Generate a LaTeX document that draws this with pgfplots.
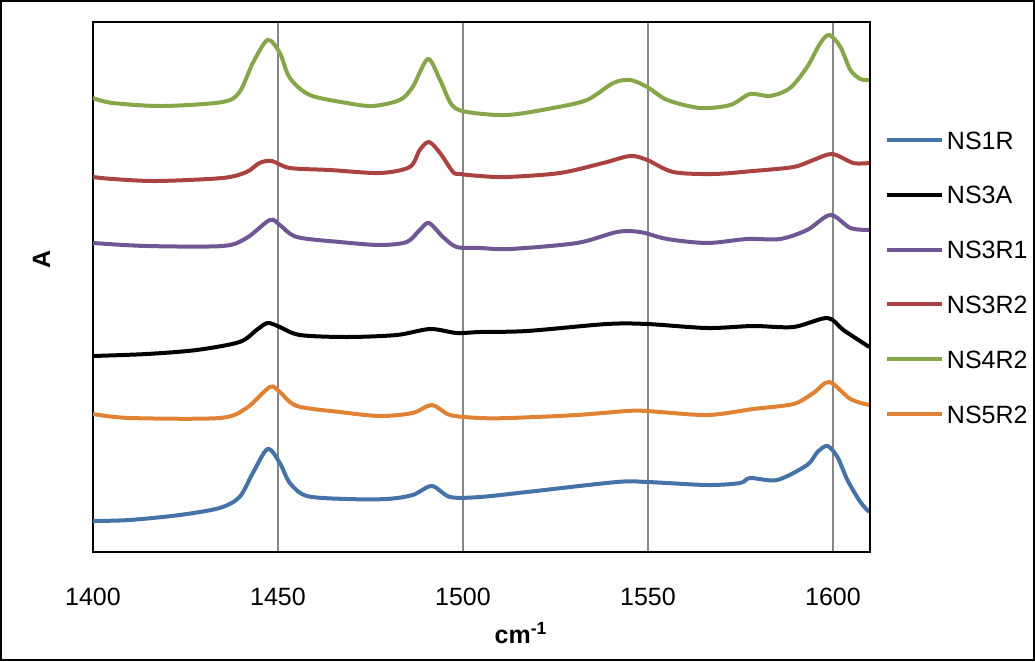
\documentclass[border=0pt]{standalone}
\usepackage{fontspec}
\setmainfont{Liberation Sans}
\usepackage{pgfplots}
\pgfplotsset{compat=1.18}
\definecolor{cblue}{RGB}{69,114,167}
\definecolor{cred}{RGB}{170,67,64}
\definecolor{cgreen}{RGB}{134,166,74}
\definecolor{cpurple}{RGB}{112,86,146}
\definecolor{corange}{RGB}{224,130,52}
\begin{document}
\begin{tikzpicture}
\useasboundingbox (-46.5pt,-54.5pt) rectangle (471pt,276pt);
\draw[line width=1pt] (-46pt,-54pt) rectangle (470.5pt,275.5pt);
\begin{axis}[
  at={(0pt,0pt)}, anchor=south west,
  width=388.5pt, height=265pt, scale only axis,
  xmin=1400, xmax=1610, ymin=0, ymax=530,
  xtick={1400,1450,1500,1550,1600}, ytick=\empty,
  major tick length=0pt,
  xmajorgrids, grid style={color=black!47, line width=0.6pt},
  axis line style={line width=0.6pt},
  /pgf/number format/assume math mode=true,
  /pgf/number format/1000 sep={},
  xticklabel style={font=\fontsize{12.5}{15}\selectfont, anchor=north, inner sep=0pt, yshift=-18pt},
  legend style={draw=none, fill=none, at={(1.0193,0.7943)}, anchor=north west,
    inner sep=0pt, outer sep=0pt, row sep=18.4pt, column sep=1.5pt,
    font=\fontsize{12.5}{15}\selectfont,
    nodes={inner sep=0pt, text height=9pt, text depth=0pt}},
  legend cell align=left,
  legend image code/.code={\draw[#1, line width=2pt] (0pt,0pt) -- (27.5pt,0pt);},
  every axis plot/.append style={line width=2pt, smooth, tension=0.5},
]
\addplot[cblue] coordinates {
(1400,31) (1409.9,32) (1423.4,37) (1434.2,44) (1439.6,55) (1443.2,79) (1447.2,103)
(1450.5,89) (1453.2,69) (1457.8,56) (1468.6,53) (1479.4,53) (1486.4,57) (1491.6,66)
(1496.5,55) (1504.6,55) (1517.3,60) (1541.6,70) (1549.8,70) (1566.0,67) (1574.9,69)
(1577.6,74) (1584.9,72) (1593.0,87) (1595.8,100) (1598.5,106) (1601.2,95) (1603.9,72)
(1607.4,50) (1609.8,40)};
\addlegendentry{NS1R}
\addplot[black] coordinates {
(1400,196) (1414.5,198) (1428.0,202) (1439.6,210) (1444.2,222) (1447.2,229) (1450.5,225)
(1455.9,217) (1468.6,215) (1482.1,217) (1491.1,223) (1498.3,219) (1504.6,220) (1517.3,221)
(1538.9,228) (1549.8,228) (1566.0,224) (1578.4,226) (1589.3,225) (1598.5,234) (1602.8,222)
(1609.8,205)};
\addlegendentry{NS3A}
\addplot[cpurple] coordinates {
(1400,309) (1414.5,306) (1435.0,306) (1441.5,314) (1447.8,332) (1450.5,327) (1455.1,315)
(1466.7,310) (1477.5,307) (1484.8,310) (1488.3,322) (1490.8,329) (1494.6,315) (1498.3,305)
(1504.6,304) (1512.7,303) (1530.8,309) (1541.6,320) (1547.9,320) (1555.2,313) (1566.0,309)
(1576.8,313) (1585.7,313) (1593.0,322) (1599.3,337) (1604.7,324) (1609.8,322)};
\addlegendentry{NS3R1}
\addplot[cred] coordinates {
(1400,375) (1405.3,373) (1417.2,371) (1435.0,374) (1441.5,380) (1445.0,389) (1448.3,391)
(1453.2,384) (1464.0,382) (1477.5,379) (1485.6,385) (1488.3,402) (1490.8,410) (1493.8,399)
(1497.3,380) (1499.2,378) (1504.6,376) (1511.9,375) (1526.2,379) (1537.9,389) (1545.2,396)
(1549.8,392) (1556.8,380) (1567.6,378) (1578.4,381) (1589.3,385) (1594.7,392) (1599.8,398)
(1605.5,389) (1609.8,389)};
\addlegendentry{NS3R2}
\addplot[cgreen] coordinates {
(1400,454) (1405.3,449) (1418.8,446) (1435.0,450) (1439.6,460) (1443.2,489) (1447.2,512)
(1450.5,499) (1453.2,474) (1458.6,457) (1468.6,449) (1475.6,446) (1482.9,452) (1486.4,465)
(1490.5,493) (1493.8,472) (1497.0,447) (1501.1,440) (1511.9,437) (1524.3,444) (1533.5,452)
(1540.6,469) (1545.2,472) (1549.8,465) (1555.2,452) (1564.1,444) (1572.2,447) (1577.6,458)
(1583.0,456) (1588.4,464) (1593.0,485) (1596.6,509) (1599.0,517) (1602.0,505) (1604.7,482)
(1607.4,473) (1609.8,472)};
\addlegendentry{NS4R2}
\addplot[corange] coordinates {
(1400,138) (1409.9,134) (1434.2,134) (1441.5,144) (1447.8,165) (1450.5,160) (1455.1,146)
(1466.7,140) (1477.5,136) (1486.4,139) (1491.6,147) (1496.5,137) (1504.6,134) (1512.7,134)
(1530.8,137) (1544.3,141) (1549.8,141) (1566.0,137) (1578.4,143) (1589.3,148) (1594.7,159)
(1599.0,170) (1604.7,153) (1609.8,147)};
\addlegendentry{NS5R2}
\draw[line width=1.3pt] (rel axis cs:0,1) -- (rel axis cs:1,1) -- (rel axis cs:1,0);
\draw[line width=1pt] (rel axis cs:0,0) -- (rel axis cs:1,0);
\end{axis}
\node[anchor=base, font=\bfseries\fontsize{12.5}{15}\selectfont] at (214pt,-45.5pt) {cm\textsuperscript{-1}};
\node[rotate=90, font=\bfseries\fontsize{12.5}{15}\selectfont] at (-25.75pt,146.25pt) {A};
\end{tikzpicture}
\end{document}
